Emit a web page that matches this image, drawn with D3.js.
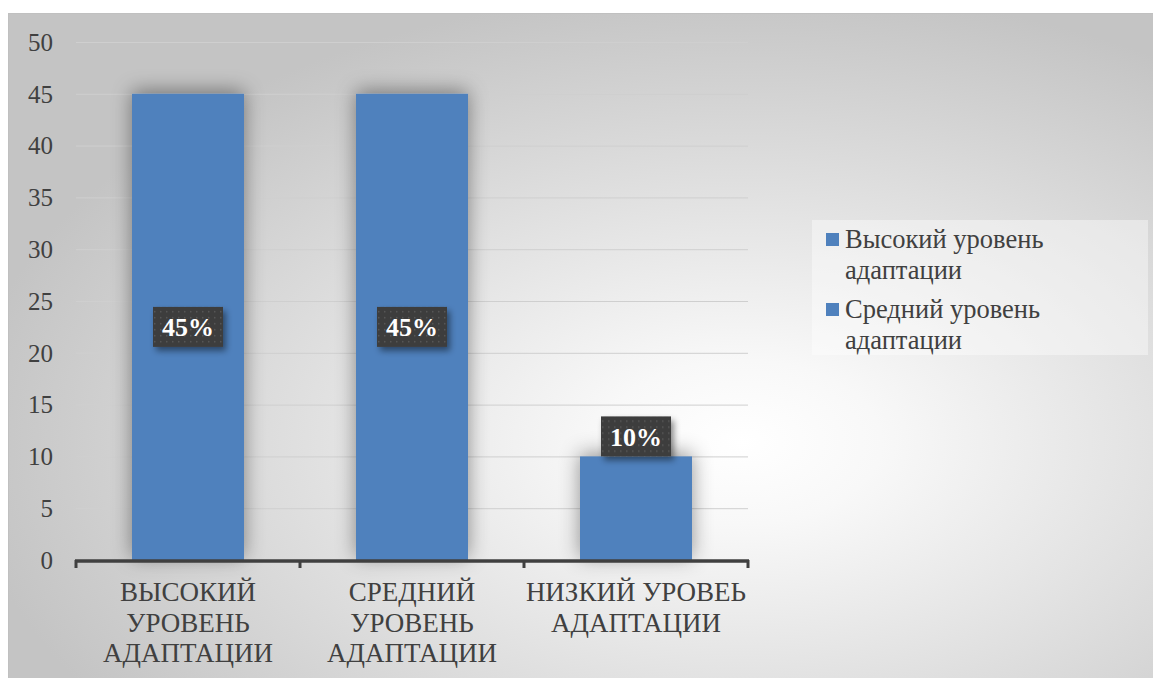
<!DOCTYPE html>
<html><head><meta charset="utf-8">
<script src="https://cdn.jsdelivr.net/npm/d3@7"></script>
<style>html,body{margin:0;padding:0;background:#fff;}svg{display:block;}</style>
</head><body>
<svg id="c" width="1153" height="678"></svg>
<script>
const categories = [
  ["ВЫСОКИЙ", "УРОВЕНЬ", "АДАПТАЦИИ"],
  ["СРЕДНИЙ", "УРОВЕНЬ", "АДАПТАЦИИ"],
  ["НИЗКИЙ УРОВЕЬ", "АДАПТАЦИИ"]
];
const values = [45, 45, 10];
const dataLabels = ["45%", "45%", "10%"];
const labelPlacement = ["center", "center", "outside"];
const yTicks = [0, 5, 10, 15, 20, 25, 30, 35, 40, 45, 50];
const legendItems = [
  ["Высокий уровень", "адаптации"],
  ["Средний уровень", "адаптации"]
];

const svg = d3.select("#c");
const font = "Liberation Serif, Tinos, Times New Roman, DejaVu Serif, Noto Serif, serif";
const textColor = "#404040";
const barColor = "#4F81BD";

const defs = svg.append("defs");
const bg = defs.append("radialGradient").attr("id","bg")
  .attr("cx",0.64).attr("cy",0.64).attr("r",0.68).attr("fx",0.64).attr("fy",0.64);
bg.append("stop").attr("offset",0).attr("stop-color","#ffffff");
bg.append("stop").attr("offset",0.18).attr("stop-color","#f8f8f8");
bg.append("stop").attr("offset",1).attr("stop-color","#c4c4c4");

const sh = defs.append("filter").attr("id","barShadow")
  .attr("x","-50%").attr("y","-50%").attr("width","200%").attr("height","200%");
sh.append("feDropShadow").attr("dx",0).attr("dy",-3).attr("stdDeviation",10)
  .attr("flood-color","#000").attr("flood-opacity",0.42);

const lsh = defs.append("filter").attr("id","lblShadow")
  .attr("x","-30%").attr("y","-30%").attr("width","160%").attr("height","160%");
lsh.append("feDropShadow").attr("dx",3).attr("dy",4).attr("stdDeviation",3)
  .attr("flood-color","#000").attr("flood-opacity",0.45);

const pat = defs.append("pattern").attr("id","dots").attr("patternUnits","userSpaceOnUse")
  .attr("width",6).attr("height",6);
pat.append("rect").attr("width",6).attr("height",6).attr("fill","#3d3d3d");
pat.append("rect").attr("x",2).attr("y",2).attr("width",1.5).attr("height",1.5).attr("fill","#575757");

// chart area background
svg.append("rect").attr("x",8.5).attr("y",13.5).attr("width",1145).attr("height",670)
  .attr("fill","url(#bg)").attr("stroke","#c0c0c0").attr("stroke-width",1);

const plot = {left:76, right:748, top:42, bottom:560};
const x = d3.scaleBand().domain(d3.range(values.length))
  .range([plot.left, plot.right]).paddingInner(0.5).paddingOuter(0.25);
const y = d3.scaleLinear().domain([0,50]).range([plot.bottom, plot.top]);

// gridlines
svg.append("g").selectAll("line").data(yTicks.filter(d=>d>0)).join("line")
  .attr("x1",plot.left).attr("x2",plot.right)
  .attr("y1",d=>y(d)+0.5).attr("y2",d=>y(d)+0.5)
  .attr("stroke","#cfcfcf").attr("stroke-width",1);

// y labels
svg.append("g").selectAll("text").data(yTicks).join("text")
  .attr("x",53).attr("y",d=>y(d)).attr("dy","0.35em")
  .attr("text-anchor","end").style("font-family",font).attr("font-size",25)
  .attr("fill",textColor).text(d=>d);

// bars
svg.append("g").selectAll("rect").data(values).join("rect")
  .attr("x",(d,i)=>x(i)).attr("width",x.bandwidth())
  .attr("y",d=>y(d)).attr("height",d=>y(0)-y(d))
  .attr("fill",barColor).attr("filter","url(#barShadow)");

// x axis
const step = x.step();
const tickXs = d3.range(values.length+1).map(i => plot.left + i*step);
svg.append("line").attr("x1",plot.left-1).attr("x2",plot.right+1)
  .attr("y1",y(0)+1).attr("y2",y(0)+1).attr("stroke","#404040").attr("stroke-width",3.5);
svg.append("g").selectAll("line").data(tickXs).join("line")
  .attr("x1",d=>d).attr("x2",d=>d).attr("y1",y(0)).attr("y2",y(0)+8)
  .attr("stroke","#404040").attr("stroke-width",3);

// category labels
const cat = svg.append("g").selectAll("text").data(categories).join("text")
  .attr("x",(d,i)=>x(i)+x.bandwidth()/2).attr("y",601)
  .attr("text-anchor","middle").style("font-family",font).attr("font-size",27)
  .attr("fill",textColor);
cat.selectAll("tspan").data(d=>d).join("tspan")
  .attr("x",function(){return this.parentNode.getAttribute("x");})
  .attr("dy",(d,i)=>i===0?0:30.5).text(d=>d);

// data labels
const lblW = 70, lblH = 40;
const lg = svg.append("g").selectAll("g").data(values).join("g")
  .attr("transform",(d,i)=>{
    const cx = x(i)+x.bandwidth()/2;
    const cy = labelPlacement[i]==="center" ? y(d/2) : y(d)-lblH/2;
    return `translate(${cx},${cy})`;
  });
lg.append("rect").attr("x",-lblW/2).attr("y",-lblH/2).attr("width",lblW).attr("height",lblH)
  .attr("fill","url(#dots)").attr("filter","url(#lblShadow)");
lg.append("text").attr("text-anchor","middle").attr("dy","0.35em")
  .style("font-family",font).attr("font-size",26).attr("font-weight","bold")
  .attr("fill","#ffffff").text((d,i)=>dataLabels[i]);

// legend
const leg = svg.append("g");
leg.append("rect").attr("x",812).attr("y",220).attr("width",336).attr("height",135)
  .attr("fill","#ffffff").attr("fill-opacity",0.4);
const li = leg.selectAll("g.item").data(legendItems).join("g").attr("class","item")
  .attr("transform",(d,i)=>`translate(826,${233 + i*70})`);
li.append("rect").attr("width",13).attr("height",13).attr("fill",barColor);
const lt = li.append("text").attr("x",19).attr("y",15)
  .style("font-family",font).attr("font-size",26.5).attr("fill",textColor);
lt.selectAll("tspan").data(d=>d).join("tspan").attr("x",19)
  .attr("dy",(d,i)=>i===0?0:31).text(d=>d);
</script>
</body></html>
